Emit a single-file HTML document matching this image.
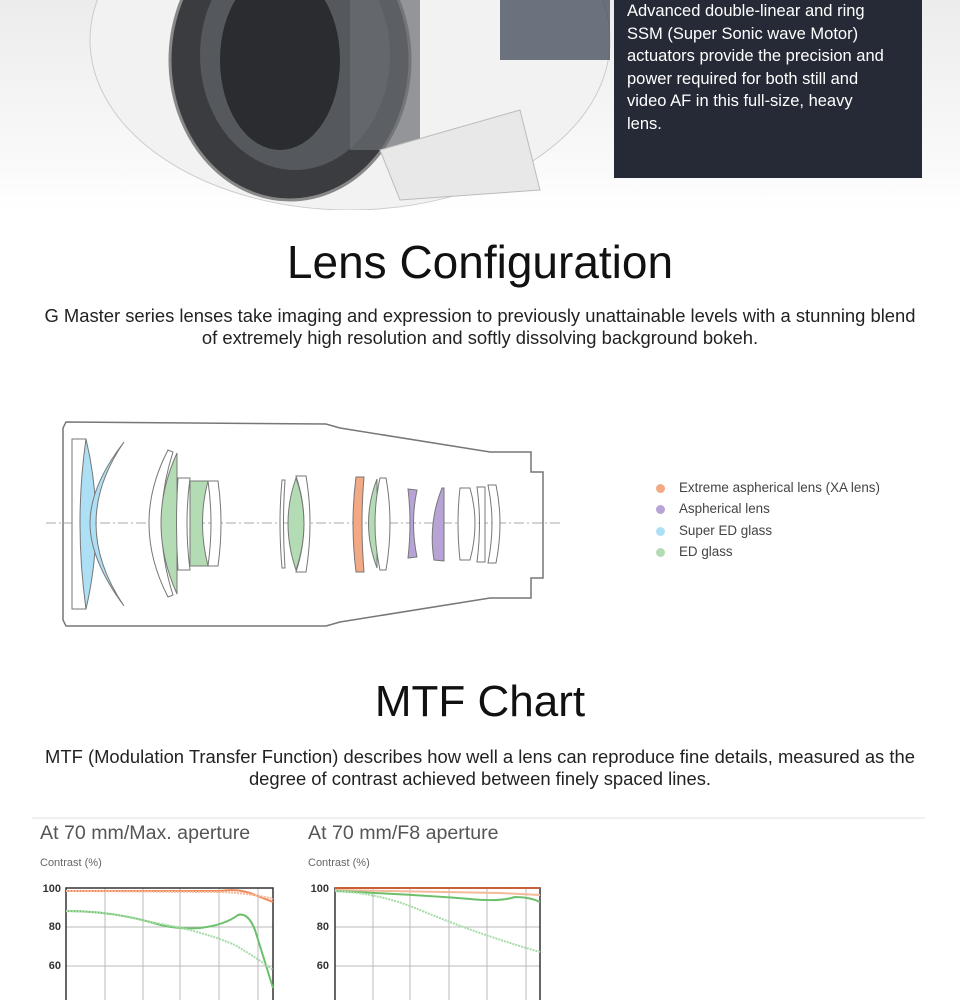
<!DOCTYPE html>
<html><head><meta charset="utf-8"><style>
body{margin:0;width:960px;height:1000px;overflow:hidden;background:#fff;font-family:"Liberation Sans",sans-serif;position:relative}
.abs{position:absolute}
.hero{left:0;top:0;width:960px;height:210px;background:linear-gradient(#ececec,#fafafa 80%,#fff)}
.box{left:614px;top:0;width:308px;height:178px;background:#262a36;color:#fff;font-size:16.5px;line-height:22.5px;padding:0 0 0 13px;box-sizing:border-box}
.box div{width:262px}
h2{position:absolute;left:0;width:960px;text-align:center;font-weight:normal;margin:0;color:#111;font-size:44px}
.p{position:absolute;left:0;width:960px;text-align:center;font-size:18.4px;line-height:22px;color:#222;white-space:nowrap}
.leg{font-size:13.4px;color:#444;left:679px}
.dot{width:9px;height:9px;border-radius:50%;left:656px}
</style></head><body>
<div class="abs hero"></div>
<svg class="abs" style="left:0;top:0" width="614" height="210">
<g fill="none">
<ellipse cx="350" cy="40" rx="260" ry="170" fill="#f2f2f2" stroke="#ccc"/>
<ellipse cx="290" cy="60" rx="120" ry="140" fill="#3a3c40" stroke="#888" stroke-width="3"/>
<ellipse cx="295" cy="55" rx="95" ry="115" fill="#55585c"/>
<ellipse cx="280" cy="60" rx="60" ry="90" fill="#2a2c30"/>
<rect x="350" y="0" width="70" height="150" fill="#6b6e72" opacity=".7"/>
<rect x="500" y="0" width="110" height="60" fill="#4a5060" opacity=".8"/>
<path d="M380 150 L520 110 L540 190 L400 200Z" fill="#e8e8e8" stroke="#bbb"/>
</g></svg>
<div class="abs box"><div>Advanced double-linear and ring SSM (Super Sonic wave Motor) actuators provide the precision and power required for both still and video AF in this full-size, heavy lens.</div></div>

<h2 style="top:235px;font-size:46px">Lens Configuration</h2>
<div class="p" style="top:305px">G Master series lenses take imaging and expression to previously unattainable levels with a stunning blend<br>of extremely high resolution and softly dissolving background bokeh.</div>

<svg class="abs" style="left:0;top:400px" width="620" height="240" viewBox="0 400 620 240">
<path d="M63 428 L66 422 L326 424 L340 428 L490 452 L531 452 L531 472 L543 472 L543 578 L531 578 L531 598 L490 598 L340 622 L326 626 L66 626 L63 620Z" fill="none" stroke="#777" stroke-width="1.5"/>
<line x1="46" y1="523" x2="560" y2="523" stroke="#aaa" stroke-dasharray="10 3 2 3"/>
<g stroke="#777" stroke-width="1">
<path d="M72 439 L86 439 Q78 523 86 609 L72 609Z" fill="#fff"/>
<path d="M86 439 Q106 523 86 609 Q74 523 86 439Z" fill="#aee0f5"/>
<path d="M124 442 Q68 523 124 606 Q90 560 90 523 Q90 486 124 442Z" fill="#aee0f5"/>
<path d="M168 450 Q130 523 168 597 L173 595 Q150 523 173 452Z" fill="#fff"/>
<path d="M177 453 Q145 523 177 594Z" fill="#b4dcb4"/>
<path d="M178 478 L190 478 Q184 523 190 570 L178 570 Q175 523 178 478Z" fill="#fff"/>
<path d="M190 481 L208 481 Q197 523 208 566 L190 566Z" fill="#b4dcb4"/>
<path d="M208 481 L218 481 Q224 523 218 566 L208 566 Q214 523 208 481Z" fill="#fff"/>
<path d="M282 480 Q278 523 282 568 L285 568 Q282 523 285 480Z" fill="#fff"/>
<path d="M296 478 Q280 523 296 570 Q312 523 296 478Z" fill="#b4dcb4"/>
<path d="M296 476 L306 476 Q314 523 306 572 L296 572 Q312 523 296 476Z" fill="#fff"/>
<path d="M356 477 L364 477 Q360 523 364 572 L356 572 Q350 523 356 477Z" fill="#f3a983"/>
<path d="M377 479 Q360 523 377 568 L377 479Z" fill="#b4dcb4"/>
<path d="M386 478 Q394 523 386 570 L380 570 Q370 523 380 478Z" fill="#fff"/>
<path d="M408 489 L417 490 Q410 523 417 557 L408 558 Q412 523 408 489Z" fill="#b7a3d6"/>
<path d="M442 488 Q428 523 434 560 L444 561 L444 488Z" fill="#b7a3d6"/>
<path d="M460 488 L470 488 Q480 523 470 560 L460 560 Q456 523 460 488Z" fill="#fff"/>
<path d="M477 487 L485 487 L485 562 L477 562 Q482 523 477 487Z" fill="#fff"/>
<path d="M488 485 L496 485 Q504 523 496 563 L488 563 Q496 523 488 485Z" fill="#fff"/>
</g></svg>
<div class="abs dot" style="top:484px;background:#f3a983"></div><div class="abs leg" style="top:480px">Extreme aspherical lens (XA lens)</div>
<div class="abs dot" style="top:505px;background:#b7a3d6"></div><div class="abs leg" style="top:501px">Aspherical lens</div>
<div class="abs dot" style="top:527px;background:#aee0f5"></div><div class="abs leg" style="top:523px">Super ED glass</div>
<div class="abs dot" style="top:548px;background:#b4dcb4"></div><div class="abs leg" style="top:544px">ED glass</div>

<h2 style="top:677px">MTF Chart</h2>
<div class="p" style="top:746px">MTF (Modulation Transfer Function) describes how well a lens can reproduce fine details, measured as the<br>degree of contrast achieved between finely spaced lines.</div>
<div class="abs" style="left:32px;top:817px;width:893px;height:2px;background:#f0f0f0"></div>

<svg class="abs" style="left:0;top:810px" width="960" height="190" viewBox="0 810 960 190" font-family="Liberation Sans, sans-serif">
<text x="40" y="839" font-size="19.6" fill="#555">At 70 mm/Max. aperture</text>
<text x="308" y="839" font-size="19.6" fill="#555">At 70 mm/F8 aperture</text>
<text x="40" y="866" font-size="11" fill="#666">Contrast (%)</text>
<text x="308" y="866" font-size="11" fill="#666">Contrast (%)</text>
<g font-size="11" fill="#333" font-weight="bold" text-anchor="end">
<text x="61" y="892">100</text><text x="61" y="930">80</text><text x="61" y="969">60</text>
<text x="329" y="892">100</text><text x="329" y="930">80</text><text x="329" y="969">60</text>
</g>
<g stroke="#bbb" stroke-width="1">
<line x1="105" y1="888" x2="105" y2="1000"/><line x1="143" y1="888" x2="143" y2="1000"/><line x1="180" y1="888" x2="180" y2="1000"/><line x1="219" y1="888" x2="219" y2="1000"/><line x1="258" y1="888" x2="258" y2="1000"/>
<line x1="66" y1="927" x2="273" y2="927"/><line x1="66" y1="966" x2="273" y2="966"/>
<line x1="373" y1="888" x2="373" y2="1000"/><line x1="410" y1="888" x2="410" y2="1000"/><line x1="449" y1="888" x2="449" y2="1000"/><line x1="487" y1="888" x2="487" y2="1000"/><line x1="526" y1="888" x2="526" y2="1000"/>
<line x1="335" y1="927" x2="540" y2="927"/><line x1="335" y1="966" x2="540" y2="966"/>
</g>
<path d="M66 1000 V888 H273 V1000" fill="none" stroke="#333" stroke-width="1.5"/>
<path d="M335 1000 V888 H540 V1000" fill="none" stroke="#333" stroke-width="1.5"/>
<g fill="none" stroke-width="2">
<path d="M66 891 L220 891 Q240 888 255 895 L273 902" stroke="#ee8a5c"/>
<path d="M66 891 L220 892 Q250 893 273 899" stroke="#f5b99b" stroke-dasharray="2 1"/>
<path d="M66 911 Q110 911 150 922 Q175 930 200 928 Q225 925 238 915 Q248 912 255 930 L273 988" stroke="#6cc06c"/>
<path d="M66 911 Q110 911 150 922 Q200 930 235 945 Q260 960 273 970" stroke="#a7dba7" stroke-dasharray="2 1"/>
<path d="M335 888 H540" stroke="#c8603a"/>
<path d="M335 890 L500 893 L540 895" stroke="#f5b99b"/>
<path d="M335 891 Q420 895 470 899 Q500 902 515 897 Q530 897 540 902" stroke="#6cc06c"/>
<path d="M335 891 Q380 893 420 910 Q480 935 540 952" stroke="#a7dba7" stroke-dasharray="2 1"/>
</g>
</svg>
</body></html>
